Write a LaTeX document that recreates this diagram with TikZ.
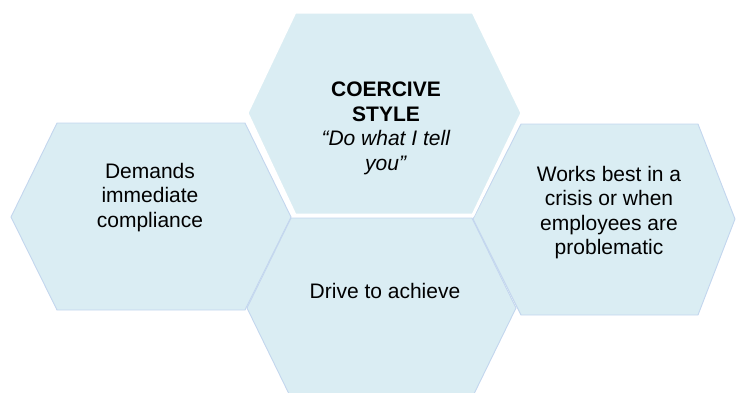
\documentclass[tikz,border=0pt]{standalone}
\usepackage{fontspec}
\setmainfont{Liberation Sans}
\definecolor{hexfill}{HTML}{DAEDF3}
\definecolor{hexline}{HTML}{C3D6EE}
\begin{document}
\begin{tikzpicture}[x=1pt,y=-1pt,
  hexbox/.style={fill=hexfill,draw=hexline,line width=0.9pt,line join=miter},
  tophex/.style={fill=hexfill,draw=white,line width=3pt,line join=miter},
  hextext/.style={inner sep=0pt,anchor=north,align=center,text=black,
    font=\fontsize{21}{24.5}\selectfont}]
\useasboundingbox (0,0) rectangle (736,392);
\begin{scope}
\clip (0,0) rectangle (736,392);
% left hexagon
\draw[hexbox] (11,217) -- (57,123) -- (245,123) -- (291,217) -- (245,310) -- (57,310) -- cycle;
% bottom hexagon
\draw[hexbox] (247,308) -- (291,218) -- (472,218) -- (516,308) -- (472,398) -- (291,398) -- cycle;
% right hexagon
\draw[hexbox] (473,219) -- (521,124) -- (698,124) -- (735,219) -- (698,315) -- (521,315) -- cycle;
% top hexagon
\draw[tophex] (247,113) -- (295,12) -- (473,12) -- (522,113) -- (473,215) -- (295,215) -- cycle;
\end{scope}
\node[hextext] (top) at (386,82) {\textbf{COERCIVE}\\\textbf{STYLE}\\\textit{“Do what I tell}\\\textit{you”}};
\node[hextext] (left) at (150,163) {Demands\\immediate\\compliance};
\node[hextext] (right) at (609,166) {Works best in a\\crisis or when\\employees are\\problematic};
\node[hextext] (bottom) at (385,283) {Drive to achieve};
\end{tikzpicture}
\end{document}
